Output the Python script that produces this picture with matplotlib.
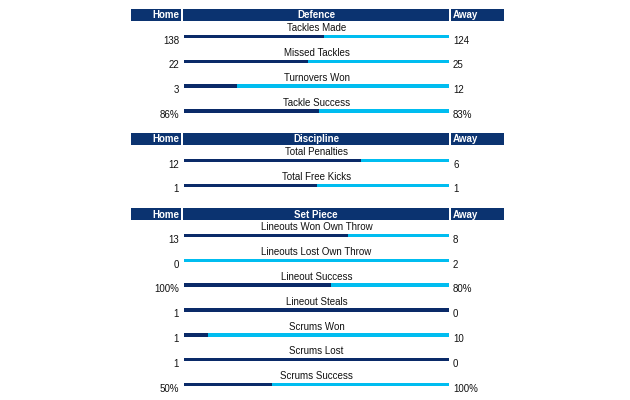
import matplotlib
matplotlib.use("Agg")
import matplotlib.pyplot as plt

plt.rcParams['font.family'] = ['Liberation Sans', 'DejaVu Sans']

# ---- data ----
section_titles = ["Defence", "Discipline", "Set Piece"]

defence_labels = ["Tackles Made", "Missed Tackles", "Turnovers Won", "Tackle Success"]
defence_home = [138, 22, 3, 86]
defence_away = [124, 25, 12, 83]
defence_suffix = ["", "", "", "%"]

discipline_labels = ["Total Penalties", "Total Free Kicks"]
discipline_home = [12, 1]
discipline_away = [6, 1]
discipline_suffix = ["", ""]

setpiece_labels = ["Lineouts Won Own Throw", "Lineouts Lost Own Throw", "Lineout Success",
                   "Lineout Steals", "Scrums Won", "Scrums Lost", "Scrums Success"]
setpiece_home = [13, 0, 100, 1, 1, 1, 50]
setpiece_away = [8, 2, 80, 0, 10, 0, 100]
setpiece_suffix = ["", "", "%", "", "", "", "%"]

home_label = "Home"
away_label = "Away"

sections = [
    (section_titles[0], defence_labels, defence_home, defence_away, defence_suffix),
    (section_titles[1], discipline_labels, discipline_home, discipline_away, discipline_suffix),
    (section_titles[2], setpiece_labels, setpiece_home, setpiece_away, setpiece_suffix),
]

# ---- style / layout ----
HEADER = '#0b3370'
DARK = '#0a2a68'
LIGHT = '#00bdf0'
header_tops = [9, 133, 208]
header_h = 12
home_x0, home_x1 = 131, 181
mid_x0, mid_x1 = 183, 449
away_x0, away_x1 = 451, 504
bar_x0, bar_x1 = 184, 449
pitch = 24.8
first_off = 27.5
bar_h = 3.6
fs = 7

fig = plt.figure(figsize=(6.3, 4.0), dpi=100)
ax = fig.add_axes([0, 0, 1, 1])
ax.set_xlim(0, 630)
ax.set_ylim(400, 0)
ax.axis('off')

for (title, labels, home, away, suffix), top in zip(sections, header_tops):
    # header boxes
    for x0, x1 in [(home_x0, home_x1), (mid_x0, mid_x1), (away_x0, away_x1)]:
        ax.barh(top + header_h / 2, x1 - x0, left=x0, height=header_h,
                color=HEADER, edgecolor='none')
    yc = top + header_h / 2 + 0.5
    ax.text(home_x1 - 2, yc, home_label, color='white', fontsize=fs,
            fontweight='bold', ha='right', va='center')
    ax.text((mid_x0 + mid_x1) / 2, yc, title, color='white', fontsize=fs,
            fontweight='bold', ha='center', va='center')
    ax.text(away_x0 + 2, yc, away_label, color='white', fontsize=fs,
            fontweight='bold', ha='left', va='center')

    width = bar_x1 - bar_x0
    for i, (lab, h, a, s) in enumerate(zip(labels, home, away, suffix)):
        y = top + first_off + i * pitch
        frac = h / (h + a) if (h + a) > 0 else 0.5
        ax.barh(y, width * frac, left=bar_x0, height=bar_h, color=DARK, edgecolor='none')
        ax.barh(y, width * (1 - frac), left=bar_x0 + width * frac, height=bar_h,
                color=LIGHT, edgecolor='none')
        ax.text((bar_x0 + bar_x1) / 2, y - 8.2, lab, fontsize=fs, color='#111111',
                ha='center', va='center')
        ax.text(home_x1 - 2, y + 4.2, f"{h}{s}", fontsize=fs, color='#111111',
                ha='right', va='center')
        ax.text(away_x0 + 2, y + 4.2, f"{a}{s}", fontsize=fs, color='#111111',
                ha='left', va='center')

fig.savefig('out.png', dpi=100, facecolor='white')
